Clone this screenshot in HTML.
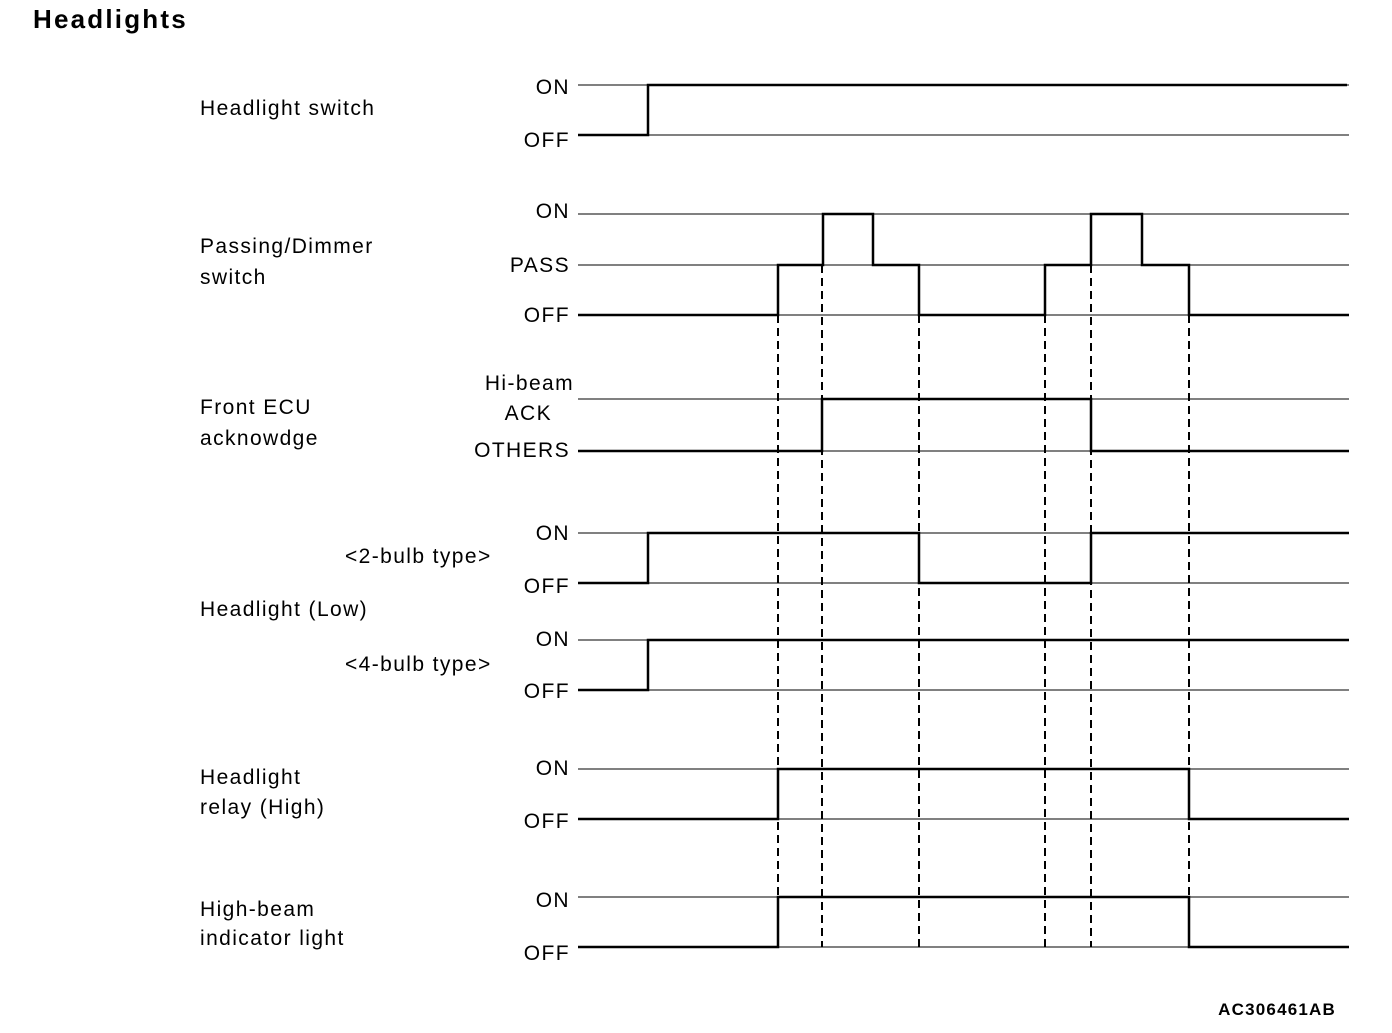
<!DOCTYPE html>
<html><head><style>
body{margin:0;background:#fff}
text{font-family:"Liberation Sans",Arial,sans-serif;font-size:21px;fill:#000;letter-spacing:1.4px}
.r{text-anchor:end}
</style></head><body>
<svg width="1392" height="1028" xmlns="http://www.w3.org/2000/svg">
<text x="33" y="28" style="font-weight:bold;font-size:26px;letter-spacing:2.2px">Headlights</text>
<g stroke="#000" stroke-width="1" fill="none">
<line x1="578" y1="85" x2="1349" y2="85"/><line x1="578" y1="135" x2="1349" y2="135"/>
<line x1="578" y1="214" x2="1349" y2="214"/><line x1="578" y1="265" x2="1349" y2="265"/><line x1="578" y1="315" x2="1349" y2="315"/>
<line x1="578" y1="399" x2="1349" y2="399"/><line x1="578" y1="451" x2="1349" y2="451"/>
<line x1="578" y1="533" x2="1349" y2="533"/><line x1="578" y1="583" x2="1349" y2="583"/>
<line x1="578" y1="640" x2="1349" y2="640"/><line x1="578" y1="690" x2="1349" y2="690"/>
<line x1="578" y1="769" x2="1349" y2="769"/><line x1="578" y1="819" x2="1349" y2="819"/>
<line x1="578" y1="897" x2="1349" y2="897"/><line x1="578" y1="947" x2="1349" y2="947"/>
</g>
<g stroke="#000" stroke-width="2.5" fill="none">
<polyline points="578,135 648,135 648,85 1347,85"/>
<polyline points="578,315 778,315 778,265 823,265 823,214 873,214 873,265 919,265 919,315 1045,315 1045,265 1091,265 1091,214 1142,214 1142,265 1189,265 1189,315 1349,315"/>
<polyline points="578,451 822,451 822,399 1091,399 1091,451 1349,451"/>
<polyline points="578,583 648,583 648,533 919,533 919,583 1091,583 1091,533 1349,533"/>
<polyline points="578,690 648,690 648,640 1349,640"/>
<polyline points="578,819 778,819 778,769 1189,769 1189,819 1349,819"/>
<polyline points="578,947 778,947 778,897 1189,897 1189,947 1349,947"/>
</g>
<g stroke="#000" stroke-width="2" stroke-dasharray="8,5">
<line x1="778" y1="315" x2="778" y2="947"/><line x1="822" y1="265" x2="822" y2="947"/>
<line x1="919" y1="315" x2="919" y2="947"/><line x1="1045" y1="315" x2="1045" y2="947"/>
<line x1="1091" y1="265" x2="1091" y2="947"/><line x1="1189" y1="315" x2="1189" y2="947"/>
</g>
<text x="200" y="115">Headlight switch</text>
<text x="200" y="253">Passing/Dimmer</text><text x="200" y="284">switch</text>
<text x="200" y="414">Front ECU</text><text x="200" y="445">acknowdge</text>
<text x="345" y="563">&lt;2-bulb type&gt;</text>
<text x="200" y="616">Headlight (Low)</text>
<text x="345" y="671">&lt;4-bulb type&gt;</text>
<text x="200" y="784">Headlight</text><text x="200" y="814">relay (High)</text>
<text x="200" y="916">High-beam</text><text x="200" y="945">indicator light</text>
<text class="r" x="570" y="94">ON</text><text class="r" x="570" y="147">OFF</text>
<text class="r" x="570" y="218">ON</text><text class="r" x="570" y="272">PASS</text><text class="r" x="570" y="322">OFF</text>
<text class="r" x="574" y="390">Hi-beam</text><text class="r" x="552" y="420">ACK</text><text class="r" x="570" y="457">OTHERS</text>
<text class="r" x="570" y="540">ON</text><text class="r" x="570" y="593">OFF</text>
<text class="r" x="570" y="646">ON</text><text class="r" x="570" y="698">OFF</text>
<text class="r" x="570" y="775">ON</text><text class="r" x="570" y="828">OFF</text>
<text class="r" x="570" y="907">ON</text><text class="r" x="570" y="960">OFF</text>
<text class="r" x="1336" y="1015" style="font-weight:bold;font-size:17px;letter-spacing:1.2px">AC306461AB</text>
</svg>
</body></html>
